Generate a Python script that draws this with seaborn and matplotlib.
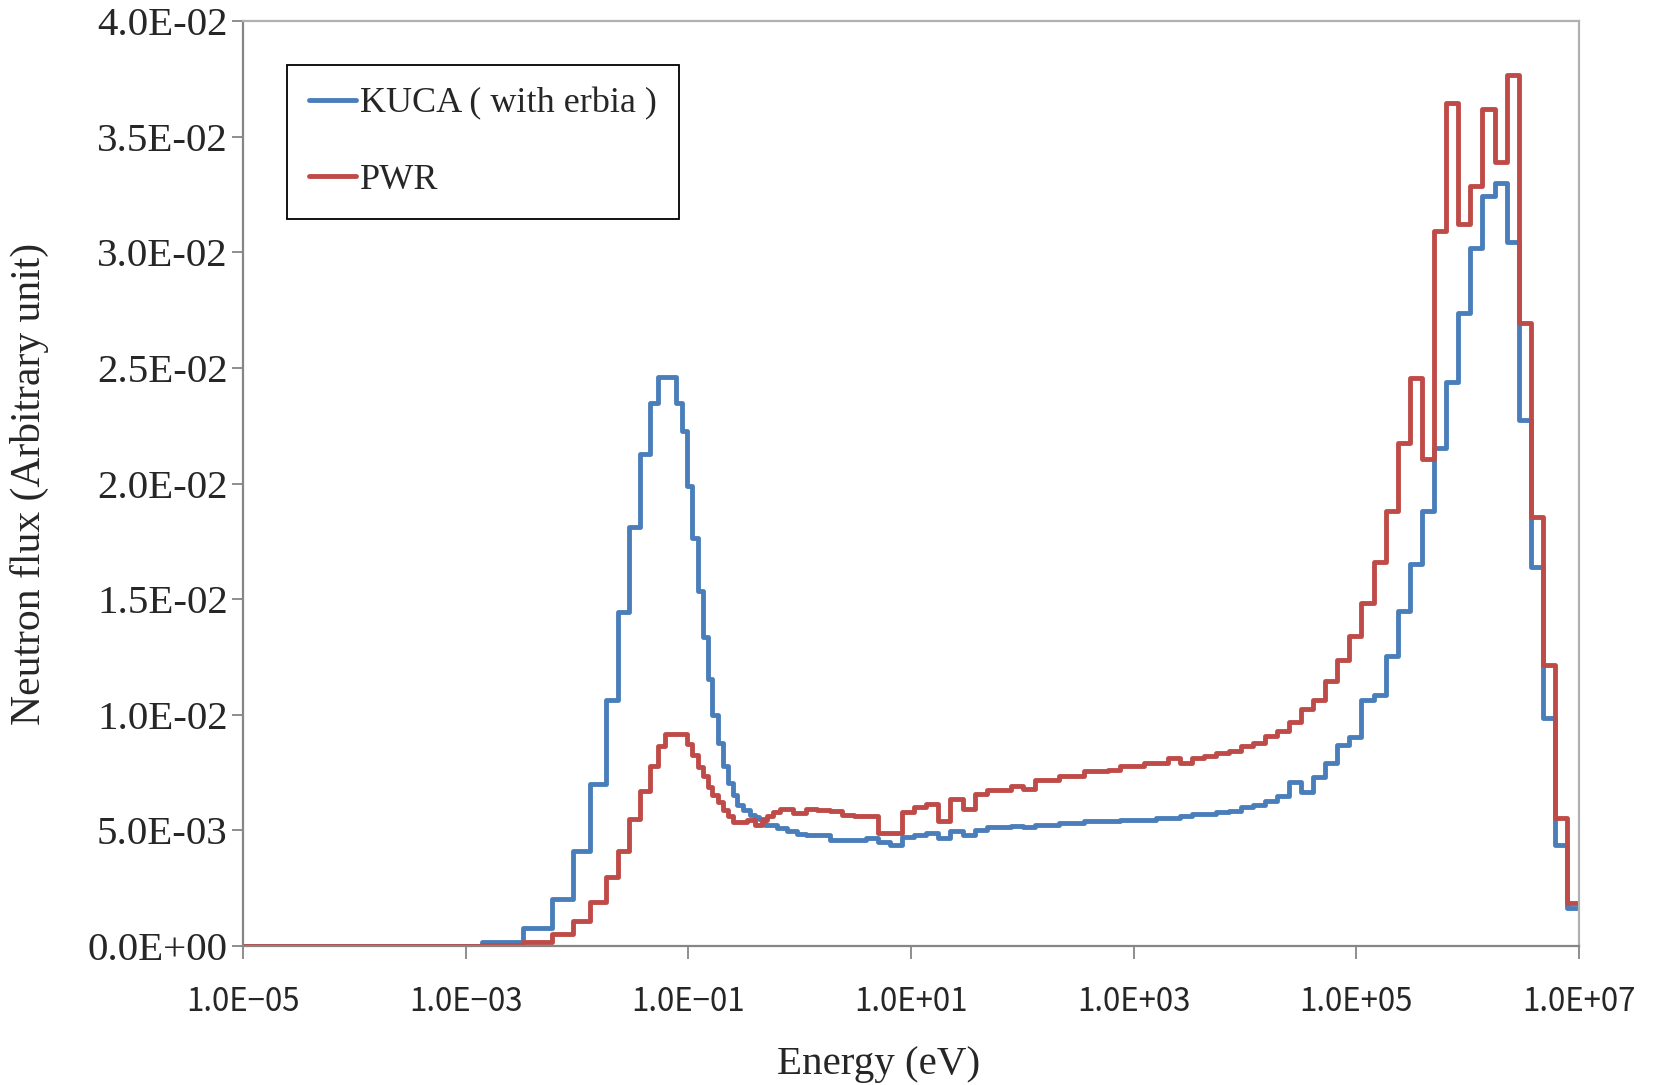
import numpy as np
import pandas as pd
import matplotlib
matplotlib.use("Agg")
import matplotlib.pyplot as plt
from matplotlib.ticker import FixedLocator, FuncFormatter, NullLocator
import seaborn as sns

# Energy group boundaries (eV), ascending
energy_edges = [
    1.0e-5, 1.4e-3, 3.3e-3, 5.9e-3, 9.2e-3, 1.30e-2, 1.82e-2, 2.33e-2, 2.94e-2,
    3.67e-2, 4.51e-2, 5.35e-2, 6.10e-2, 6.80e-2, 7.74e-2, 8.70e-2, 9.70e-2,
    0.108, 0.122, 0.136, 0.149, 0.162, 0.186, 0.206, 0.228, 0.253, 0.275,
    0.311, 0.334, 0.357, 0.396, 0.430, 0.455, 0.488, 0.505, 0.579, 0.621,
    0.665, 0.764, 0.877, 0.940,
    1.13, 1.44, 1.86, 2.38, 3.06, 3.93, 5.04, 6.48, 8.32, 10.7, 13.7, 17.6,
    22.6, 29.0, 37.3, 47.9, 61.4, 78.9, 101.0, 130.0, 167.0, 214.0, 275.0,
    354.0, 454.0, 583.0, 749.0, 961.0, 1.23e3, 1.58e3, 2.03e3, 2.61e3, 3.35e3,
    4.31e3, 5.53e3, 7.10e3, 9.12e3, 1.17e4, 1.50e4, 1.93e4, 2.48e4, 3.18e4,
    4.09e4, 5.25e4, 6.74e4, 8.65e4, 1.11e5, 1.43e5, 1.83e5, 2.35e5, 3.02e5,
    3.88e5, 4.98e5, 6.39e5, 8.21e5, 1.05e6, 1.35e6, 1.74e6, 2.23e6, 2.87e6,
    3.68e6, 4.72e6, 6.07e6, 7.79e6, 1.00e7,
]

# Group flux, KUCA core with erbia (one value per group)
flux_kuca = [
    0.0, 0.00017, 0.0008, 0.00202, 0.00411, 0.0070, 0.01066, 0.01443, 0.01814,
    0.02128, 0.02347, 0.0246, 0.0246, 0.0246, 0.02347, 0.02226, 0.0199,
    0.01766, 0.01537, 0.01335, 0.01153, 0.0100, 0.0088, 0.0078, 0.00705,
    0.00654, 0.00611, 0.0059, 0.0059, 0.00568, 0.0056, 0.00549, 0.00549,
    0.00525, 0.00525, 0.00525, 0.0051, 0.0051, 0.00496, 0.00496, 0.00485,
    0.00479, 0.00479, 0.0046, 0.0046, 0.0046, 0.00467, 0.0045, 0.00438,
    0.00471, 0.00482, 0.00489, 0.00467, 0.00496, 0.00482, 0.00503, 0.00513,
    0.00513, 0.0052, 0.00513, 0.00525, 0.00525, 0.00532, 0.00532, 0.00539,
    0.00539, 0.00539, 0.00546, 0.00546, 0.00546, 0.00554, 0.00554, 0.00561,
    0.00571, 0.00571, 0.00578, 0.00585, 0.00601, 0.0061, 0.00628, 0.0065,
    0.00709, 0.00664, 0.00731, 0.00791, 0.0087, 0.00904, 0.01065, 0.01084,
    0.01252, 0.01447, 0.01653, 0.01882, 0.02153, 0.02437, 0.02737, 0.0302,
    0.03245, 0.03301, 0.03046, 0.02276, 0.01641, 0.00986, 0.00438, 0.00165,
]

# Group flux, PWR
flux_pwr = [
    0.0, 0.00006, 0.00017, 0.0005, 0.0011, 0.0019, 0.0030, 0.0041, 0.0055,
    0.0067, 0.0078, 0.00863, 0.00918, 0.00918, 0.00918, 0.00918, 0.00875,
    0.00827, 0.00774, 0.00734, 0.00688, 0.00654, 0.00621, 0.0059, 0.00561,
    0.00535, 0.00535, 0.00535, 0.00543, 0.00543, 0.00525, 0.00525, 0.00546,
    0.00546, 0.00561, 0.00578, 0.00578, 0.00593, 0.00593, 0.00575, 0.00575,
    0.00593, 0.0059, 0.00582, 0.00568, 0.00561, 0.00561, 0.00489, 0.00489,
    0.00578, 0.006, 0.00616, 0.00539, 0.00636, 0.00594, 0.00657, 0.00676,
    0.00676, 0.00693, 0.00679, 0.00719, 0.00719, 0.00734, 0.00734, 0.00755,
    0.00755, 0.00762, 0.00777, 0.00777, 0.00791, 0.00791, 0.00813, 0.00791,
    0.00813, 0.0082, 0.00835, 0.00842, 0.00863, 0.00878, 0.00909, 0.00931,
    0.00967, 0.01025, 0.01062, 0.01144, 0.01235, 0.01339, 0.01483, 0.01659,
    0.01882, 0.02177, 0.02456, 0.02106, 0.0309, 0.03647, 0.03121, 0.03287,
    0.03618, 0.03392, 0.03767, 0.02696, 0.01857, 0.01216, 0.00554, 0.00186,
]

series_names = ["KUCA ( with erbia )", "PWR"]
series_colors = ["#4A7EBB", "#BE4B48"]

x_ticks = [1e-5, 1e-3, 1e-1, 1e1, 1e3, 1e5, 1e7]
y_ticks = [0.0, 0.005, 0.01, 0.015, 0.02, 0.025, 0.03, 0.035, 0.04]


def step_frame(edges, values, name):
    # left edge of each group, plus the top boundary holding the last value
    x = list(edges[:-1]) + [edges[-1]]
    y = list(values) + [values[-1]]
    return pd.DataFrame({"Energy": x, "Flux": y, "Core": name})


df = pd.concat([
    step_frame(energy_edges, flux_kuca, series_names[0]),
    step_frame(energy_edges, flux_pwr, series_names[1]),
], ignore_index=True)

sns.set_theme(style="white")
plt.rcParams["font.family"] = ["Liberation Serif", "DejaVu Serif"]

fig = plt.figure(figsize=(16.58, 10.85), dpi=100)
ax = fig.add_axes([0.1466, 0.1281, 0.8058, 0.8525])

sns.lineplot(
    data=df, x="Energy", y="Flux", hue="Core",
    hue_order=series_names, palette=series_colors,
    drawstyle="steps-post", linewidth=3.5, estimator=None,
    sort=False, ax=ax,
)

ax.set_xscale("log")
ax.set_xlim(1e-5, 1e7)
ax.set_ylim(0, 0.04)

ax.xaxis.set_major_locator(FixedLocator(x_ticks))
ax.xaxis.set_minor_locator(NullLocator())
ax.xaxis.set_major_formatter(
    FuncFormatter(lambda v, p: f"{v:.1E}".replace("-", "\u2212")))
ax.yaxis.set_major_locator(FixedLocator(y_ticks))
ax.yaxis.set_major_formatter(FuncFormatter(lambda v, p: f"{v:.1E}"))

for lab in ax.get_xticklabels():
    lab.set_family(["Noto Sans CJK JP", "DejaVu Sans"])
    lab.set_fontsize(22.5)
for lab in ax.get_yticklabels():
    lab.set_fontsize(29.5)

ax.tick_params(axis="x", which="major", direction="out", length=9,
               width=1.3, color="#868686", pad=20, bottom=True)
ax.tick_params(axis="y", which="major", direction="out", length=8,
               width=1.3, color="#868686", pad=3, left=True)

for side in ["left", "bottom"]:
    ax.spines[side].set_color("#868686")
    ax.spines[side].set_linewidth(1.6)
for side in ["top", "right"]:
    ax.spines[side].set_color("#B0B0B0")
    ax.spines[side].set_linewidth(1.6)

ax.set_xlabel("Energy (eV)", fontsize=29.5)
ax.xaxis.set_label_coords(0.476, -0.108)
ax.set_ylabel("Neutron flux (Arbitrary unit)", fontsize=30)
ax.yaxis.set_label_coords(-0.145, 0.5)

leg = ax.legend(
    loc="upper left", bbox_to_anchor=(0.0326, 0.953), borderaxespad=0,
    fontsize=26, frameon=True, fancybox=False, framealpha=1,
    edgecolor="black", handlelength=1.3, handletextpad=0.1,
    labelspacing=1.2, borderpad=0.62, title=None,
)
leg.get_frame().set_linewidth(1.3)
for line in leg.get_lines():
    line.set_linewidth(3.5)

fig.savefig("out.png", dpi=100, facecolor="white")
